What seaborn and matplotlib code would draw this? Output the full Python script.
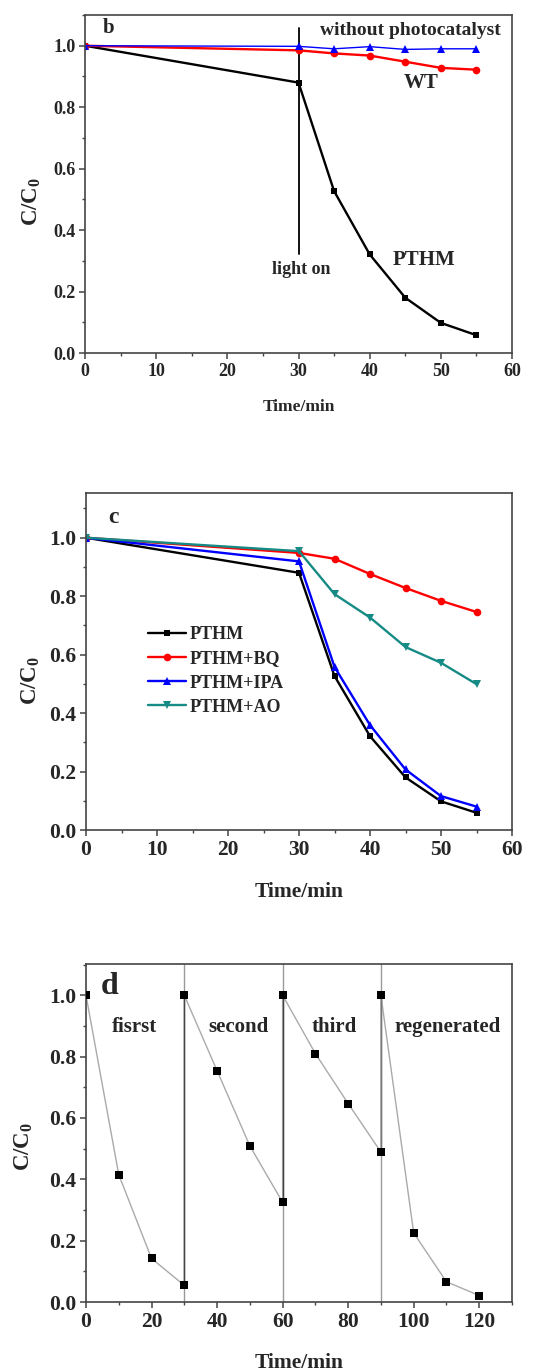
import matplotlib
matplotlib.use("Agg")
import matplotlib.pyplot as plt
from matplotlib.ticker import MultipleLocator, FormatStrFormatter
import seaborn as sns

# panel b
time_b = [0, 30, 35, 40, 45, 50, 55]
pthm_b = [1.0, 0.88, 0.527, 0.321, 0.18, 0.098, 0.058]
wt_b = [1.0, 0.985, 0.975, 0.968, 0.948, 0.928, 0.922]
blank_b = [1.0, 0.998, 0.99, 0.997, 0.988, 0.99, 0.99]

# panel c
time_c = [0, 30, 35, 40, 45, 50, 55]
pthm_c = [1.0, 0.88, 0.527, 0.321, 0.18, 0.098, 0.059]
bq_c = [1.0, 0.948, 0.928, 0.876, 0.828, 0.784, 0.746]
ipa_c = [1.0, 0.919, 0.558, 0.359, 0.207, 0.116, 0.080]
ao_c = [1.0, 0.954, 0.807, 0.727, 0.626, 0.572, 0.499]
labels_c = ["PTHM", "PTHM+BQ", "PTHM+IPA", "PTHM+AO"]

# panel d (four cycles, joined)
time_d = [0, 10, 20, 30, 30, 40, 50, 60, 60, 70, 80, 90, 90, 100, 110, 120]
conc_d = [1.0, 0.415, 0.142, 0.054, 1.0, 0.754, 0.509, 0.325,
          1.0, 0.81, 0.647, 0.489, 1.0, 0.225, 0.066, 0.021]
cycle_names = ["fisrst", "second", "third", "regenerated"]
cycle_pos = [14.7, 46.4, 75.8, 110.3]

sns.set_style("ticks")
plt.rcParams["font.family"] = ["Liberation Serif", "DejaVu Serif"]
plt.rcParams["font.weight"] = "bold"
plt.rcParams["axes.labelweight"] = "bold"
plt.rcParams["mathtext.fontset"] = "custom"
plt.rcParams["mathtext.rm"] = "Liberation Serif:bold"
plt.rcParams["mathtext.it"] = "Liberation Serif:bold"
plt.rcParams["mathtext.bf"] = "Liberation Serif:bold"

W, H = 556, 1371
fig = plt.figure(figsize=(W / 100, H / 100), dpi=100)


def make_axes(left, top, right, bottom):
    return fig.add_axes([left / W, 1 - bottom / H, (right - left) / W, (bottom - top) / H])


def style_axes(ax, tick_size, label_size, xmaj, xmin, ylab_xy, xlab_pad):
    for sp in ax.spines.values():
        sp.set_color("#444444")
        sp.set_linewidth(1.2)
    ax.xaxis.set_major_locator(MultipleLocator(xmaj))
    ax.xaxis.set_minor_locator(MultipleLocator(xmin))
    ax.yaxis.set_major_locator(MultipleLocator(0.2))
    ax.yaxis.set_minor_locator(MultipleLocator(0.1))
    ax.yaxis.set_major_formatter(FormatStrFormatter("%.1f"))
    ax.tick_params(which="major", direction="out", length=4, width=1.1,
                   color="#444444", labelsize=tick_size, pad=3)
    ax.tick_params(which="minor", direction="out", length=2.5, width=1.0, color="#444444")
    ax.set_xlabel("Time/min", fontsize=label_size, labelpad=xlab_pad)
    ax.set_ylabel("C/C$_0$", fontsize=16.5)
    ax.yaxis.set_label_coords(*ylab_xy)
    for lab in ax.get_xticklabels() + ax.get_yticklabels():
        lab.set_fontweight("bold")


# ---- panel b ----
ax = make_axes(85, 15, 512, 353)
ax.plot([30, 30], [0.322, 1.057], color="black", lw=1.3)
sns.lineplot(x=time_b, y=pthm_b, ax=ax, color="black", lw=1.7, marker="s",
             markersize=5, markeredgewidth=0)
sns.lineplot(x=time_b, y=wt_b, ax=ax, color="#ff0000", lw=1.7, marker="o",
             markersize=5.5, markeredgewidth=0)
sns.lineplot(x=time_b, y=blank_b, ax=ax, color="#0000ff", lw=1.0, marker="^",
             markersize=5.5, markeredgewidth=0)
ax.set_xlim(0, 60)
ax.set_ylim(0, 1.1)
style_axes(ax, 13, 12.5, 10, 5, (-0.099, 0.447), 14)
ax.text(3.3, 1.057, "b", fontsize=15, ha="center", va="center")
ax.text(45.7, 1.048, "without photocatalyst", fontsize=14, ha="center", va="center")
ax.text(47.2, 0.878, "WT", fontsize=15, ha="center", va="center")
ax.text(47.6, 0.302, "PTHM", fontsize=15, ha="center", va="center")
ax.text(30.4, 0.272, "light on", fontsize=13, ha="center", va="center")

# ---- panel c ----
ax = make_axes(86, 493, 512, 830)
series_c = [pthm_c, bq_c, ipa_c, ao_c]
colors_c = ["black", "#ff0000", "#0000ff", "#168a84"]
markers_c = ["s", "o", "^", "v"]
sizes_c = [5, 5.5, 5.5, 5.5]
for vals, lab, col, mk, ms in zip(series_c, labels_c, colors_c, markers_c, sizes_c):
    sns.lineplot(x=time_c, y=vals, ax=ax, color=col, lw=1.7, marker=mk,
                 markersize=ms, markeredgewidth=0, label=lab)
ax.set_xlim(0, 60)
ax.set_ylim(0, 1.153)
style_axes(ax, 15.5, 15.5, 10, 5, (-0.103, 0.445), 16)
ax.legend(loc="center left", bbox_to_anchor=(0.108, 0.472), frameon=False,
          prop={"size": 13, "weight": "bold"}, handlelength=2.1,
          handletextpad=0.2, labelspacing=0.4)
ax.text(3.9, 1.07, "c", fontsize=17, ha="center", va="center")

# ---- panel d ----
ax = make_axes(86, 964, 512, 1302)
for xv in [30, 60, 90]:
    ax.axvline(xv, color="#999999", lw=1.0)
sns.lineplot(x=time_d, y=conc_d, ax=ax, estimator=None, sort=False,
             color="#aaaaaa", lw=1.0)
ax.plot([30, 30], [0.054, 1.0], color="#444444", lw=1.0)
ax.plot([60, 60], [0.325, 1.0], color="#444444", lw=1.0)
ax.plot([90, 90], [0.489, 1.0], color="#777777", lw=1.0)
sns.scatterplot(x=time_d, y=conc_d, ax=ax, color="black", marker="s", s=30,
                linewidth=0, zorder=5)
ax.set_xlim(0, 130)
ax.set_ylim(0, 1.102)
style_axes(ax, 15.5, 15.5, 20, 10, (-0.12, 0.459), 15)
ax.text(7.2, 1.03, "d", fontsize=23, ha="center", va="center")
for name, xp in zip(cycle_names, cycle_pos):
    ax.text(xp, 0.895, name, fontsize=15, ha="center", va="center")

fig.savefig("out.png", dpi=100)
plt.close(fig)
